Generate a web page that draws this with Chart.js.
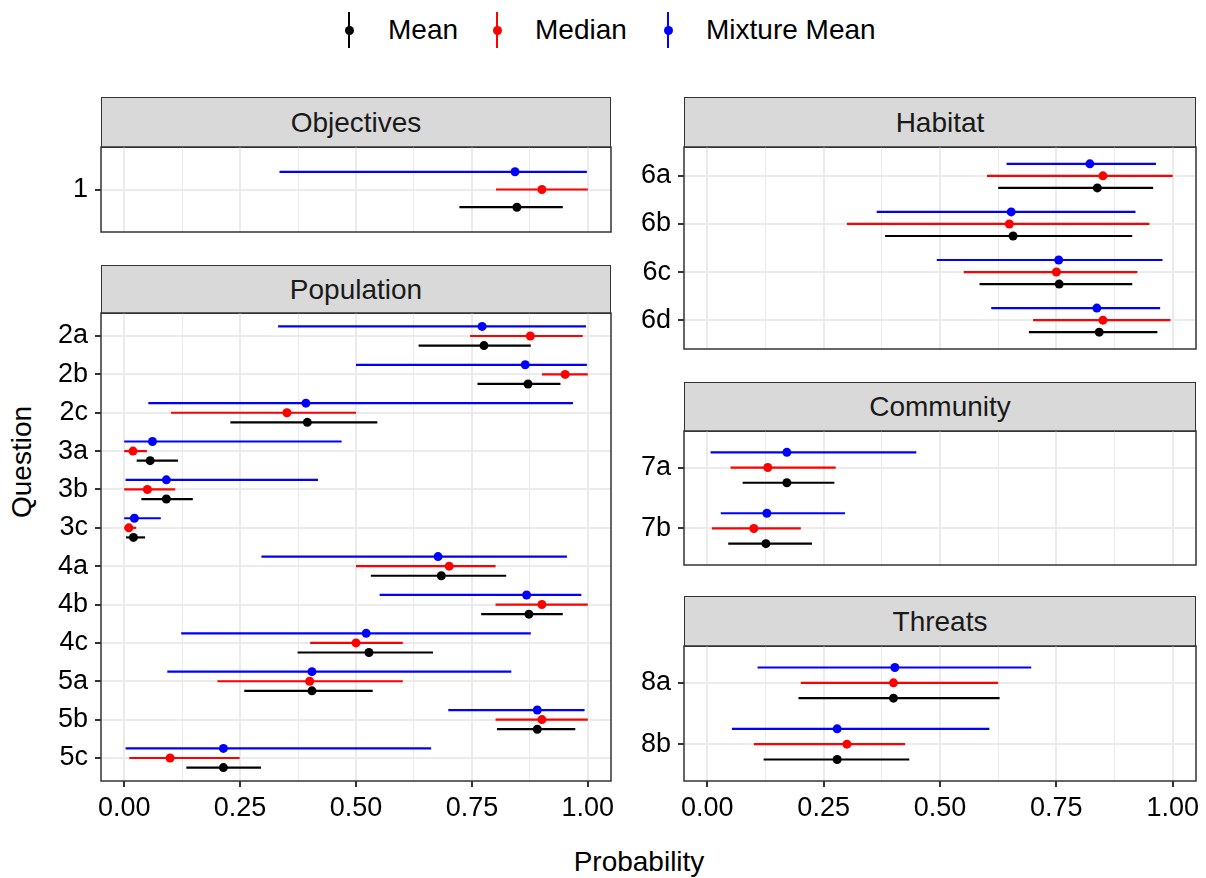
<!DOCTYPE html>
<html>
<head>
<meta charset="utf-8">
<script src="https://cdn.jsdelivr.net/npm/chart.js@4.4.1/dist/chart.umd.min.js"></script>
<style>
  body { margin: 0; background: #fff; font-family: "Liberation Sans", Arial, sans-serif; }
  #fig { position: relative; width: 1206px; height: 878px; overflow: hidden; background: #fff; }
  .strip { position: absolute; background: #d9d9d9; border: 1.5px solid #333; box-sizing: border-box;
           font-size: 28px; color: #1a1a1a; display: flex; align-items: center; justify-content: center; }
  .wrap { position: absolute; }
  .key { position: absolute; width: 12px; height: 36px; }
  .key i { position: absolute; left: 5px; top: 0; width: 2px; height: 36px; }
  .key b { position: absolute; left: 1.5px; top: 13.5px; width: 9px; height: 9px; border-radius: 50%; }
  .lab { position: absolute; font-size: 28px; color: #000; line-height: 32px; white-space: nowrap; }
  .title { position: absolute; font-size: 28px; color: #000; white-space: nowrap; transform: translate(-50%, -50%); }
</style>
</head>
<body>
<div id="fig">
  <span class="key" style="left:343px;top:12px"><i style="background:#000"></i><b style="background:#000"></b></span>
  <span class="lab" style="left:388px;top:14px">Mean</span>
  <span class="key" style="left:491px;top:12px"><i style="background:#f00"></i><b style="background:#f00"></b></span>
  <span class="lab" style="left:535px;top:14px">Median</span>
  <span class="key" style="left:662px;top:12px"><i style="background:#00f"></i><b style="background:#00f"></b></span>
  <span class="lab" style="left:706px;top:14px">Mixture Mean</span>
  <div class="title" style="left:639px;top:862px">Probability</div>
  <div class="title" style="left:22px;top:462px;transform:translate(-50%,-50%) rotate(-90deg)">Question</div>
</div>
<script>
// values
const questions = ['1', '2a', '2b', '2c', '3a', '3b', '3c', '4a', '4b', '4c', '5a', '5b', '5c',
                   '6a', '6b', '6c', '6d', '7a', '7b', '8a', '8b'];
const panelOf = ['Objectives', 'Population', 'Population', 'Population', 'Population', 'Population',
                 'Population', 'Population', 'Population', 'Population', 'Population', 'Population',
                 'Population', 'Habitat', 'Habitat', 'Habitat', 'Habitat', 'Community', 'Community',
                 'Threats', 'Threats'];

const meanEst  = [0.847, 0.776, 0.871, 0.395, 0.056, 0.091, 0.020, 0.684, 0.873, 0.528, 0.405, 0.891, 0.214,
                  0.838, 0.657, 0.756, 0.842, 0.171, 0.126, 0.400, 0.279];
const meanLow  = [0.723, 0.635, 0.762, 0.229, 0.027, 0.037, 0.004, 0.532, 0.770, 0.374, 0.259, 0.804, 0.134,
                  0.625, 0.382, 0.585, 0.691, 0.076, 0.045, 0.196, 0.121];
const meanHigh = [0.946, 0.877, 0.941, 0.546, 0.116, 0.148, 0.045, 0.824, 0.946, 0.666, 0.536, 0.973, 0.295,
                  0.958, 0.913, 0.913, 0.967, 0.273, 0.225, 0.628, 0.434];

const medianEst  = [0.901, 0.876, 0.951, 0.351, 0.019, 0.050, 0.010, 0.701, 0.901, 0.500, 0.400, 0.901, 0.099,
                    0.850, 0.649, 0.750, 0.850, 0.130, 0.100, 0.400, 0.300];
const medianLow  = [0.802, 0.746, 0.901, 0.101, 0.000, 0.000, 0.000, 0.500, 0.801, 0.401, 0.201, 0.801, 0.011,
                    0.601, 0.300, 0.551, 0.700, 0.050, 0.010, 0.201, 0.100];
const medianHigh = [1.000, 0.989, 1.000, 0.500, 0.049, 0.110, 0.026, 0.801, 1.000, 0.601, 0.601, 1.000, 0.249,
                    1.000, 0.950, 0.924, 0.995, 0.276, 0.201, 0.625, 0.425];

const mixEst  = [0.843, 0.772, 0.865, 0.392, 0.061, 0.091, 0.022, 0.677, 0.868, 0.522, 0.405, 0.891, 0.214,
                 0.822, 0.653, 0.755, 0.837, 0.171, 0.128, 0.403, 0.279];
const mixLow  = [0.335, 0.332, 0.500, 0.052, 0.000, 0.003, 0.000, 0.296, 0.551, 0.123, 0.093, 0.699, 0.003,
                 0.643, 0.364, 0.493, 0.610, 0.007, 0.029, 0.108, 0.053];
const mixHigh = [0.998, 0.996, 0.998, 0.968, 0.469, 0.418, 0.079, 0.955, 0.986, 0.877, 0.835, 0.993, 0.662,
                 0.964, 0.920, 0.978, 0.973, 0.449, 0.296, 0.696, 0.606];

const xMajor = [0, 0.25, 0.5, 0.75, 1];
const xMinor = [0.125, 0.375, 0.625, 0.875];
const xTickLabels = ['0.00', '0.25', '0.50', '0.75', '1.00'];

// facet layout (pixels)
const panels = [
  { name: 'Objectives', left: 101, top: 147, w: 510, h: 85,  stripTop: 97,  axis: false },
  { name: 'Population', left: 101, top: 313, w: 510, h: 468, stripTop: 265, axis: true },
  { name: 'Habitat',    left: 684, top: 147, w: 512, h: 202, stripTop: 97,  axis: false },
  { name: 'Community',  left: 684, top: 431, w: 512, h: 134, stripTop: 382, axis: false },
  { name: 'Threats',    left: 684, top: 646, w: 512, h: 135, stripTop: 596, axis: true },
];

Chart.defaults.font.family = '"Liberation Sans", Arial, sans-serif';
Chart.defaults.animation = false;

const series = [
  { est: mixEst,    lo: mixLow,    hi: mixHigh,    color: '#0000ff', dy: -0.25 },
  { est: medianEst, lo: medianLow, hi: medianHigh, color: '#ff0000', dy: 0 },
  { est: meanEst,   lo: meanLow,   hi: meanHigh,   color: '#000000', dy: 0.25 },
];

// panel border on top of everything
const frame = {
  id: 'frame',
  afterDraw(chart) {
    const { ctx, chartArea: a } = chart;
    ctx.save();
    ctx.strokeStyle = '#333';
    ctx.lineWidth = 1.5;
    ctx.strokeRect(a.left, a.top, a.right - a.left, a.bottom - a.top);
    ctx.restore();
  }
};

const isMajor = (v) => xMajor.some(m => Math.abs(m - v) < 1e-6);
const fig = document.getElementById('fig');
const YW = 100, PAD_T = 24, PAD_R = 12, XH = 50;

panels.forEach(p => {
  // strip header
  const strip = document.createElement('div');
  strip.className = 'strip';
  strip.style.left = p.left + 'px';
  strip.style.top = p.stripTop + 'px';
  strip.style.width = p.w + 'px';
  strip.style.height = (p.top - p.stripTop + 1) + 'px';
  strip.textContent = p.name;
  fig.appendChild(strip);

  const idx = questions.map((q, i) => i).filter(i => panelOf[i] === p.name);
  const cats = idx.map(i => questions[i]);

  const datasets = [];
  // points first so they sit above the lines
  series.forEach(s => {
    datasets.push({
      data: idx.map((i, k) => ({ x: s.est[i], y: k + 1 + s.dy })),
      backgroundColor: s.color, borderWidth: 0, pointRadius: 4.5, pointHoverRadius: 4.5
    });
  });
  series.forEach(s => {
    idx.forEach((i, k) => {
      datasets.push({
        data: [{ x: s.lo[i], y: k + 1 + s.dy }, { x: s.hi[i], y: k + 1 + s.dy }],
        showLine: true, borderColor: s.color, borderWidth: 2.2, pointRadius: 0, pointHoverRadius: 0
      });
    });
  });

  const bottom = p.axis ? XH : PAD_T;
  const wrap = document.createElement('div');
  wrap.className = 'wrap';
  wrap.style.left = (p.left - YW) + 'px';
  wrap.style.top = (p.top - PAD_T) + 'px';
  const canvas = document.createElement('canvas');
  canvas.width = YW + p.w + PAD_R;
  canvas.height = PAD_T + p.h + bottom;
  wrap.appendChild(canvas);
  fig.appendChild(wrap);

  new Chart(canvas, {
    type: 'scatter',
    data: { datasets },
    options: {
      responsive: false,
      animation: false,
      layout: { padding: { top: PAD_T, right: PAD_R, bottom: p.axis ? 0 : PAD_T, left: 0 } },
      plugins: { legend: { display: false }, tooltip: { enabled: false } },
      scales: {
        x: {
          type: 'linear', min: -0.05, max: 1.05,
          afterBuildTicks: s => { s.ticks = xMajor.concat(xMinor).sort((a, b) => a - b).map(v => ({ value: v })); },
          afterFit: s => { s.height = p.axis ? XH : 0; },
          ticks: {
            display: p.axis, autoSkip: false, maxRotation: 0, padding: 5, color: '#000',
            font: { size: 27 },
            callback: v => { const j = xMajor.findIndex(m => Math.abs(m - v) < 1e-6); return j >= 0 ? xTickLabels[j] : ''; }
          },
          grid: {
            color: '#ebebeb',
            lineWidth: c => (c.tick && !isMajor(c.tick.value)) ? 1 : 2,
            drawTicks: p.axis, tickLength: 6, tickWidth: 2,
            tickColor: c => (c.tick && !isMajor(c.tick.value)) ? 'rgba(0,0,0,0)' : '#333'
          },
          border: { display: false }
        },
        y: {
          type: 'linear', reverse: true, min: 0.4, max: cats.length + 0.6,
          afterBuildTicks: s => { s.ticks = cats.map((c, k) => ({ value: k + 1 })); },
          afterFit: s => { s.width = YW; },
          ticks: {
            color: '#000', font: { size: 27 }, padding: 7,
            callback: v => cats[Math.round(v) - 1] ?? ''
          },
          grid: { color: '#ebebeb', lineWidth: 2, tickLength: 6, tickWidth: 2, tickColor: '#333' },
          border: { display: false }
        }
      }
    },
    plugins: [frame]
  });
});
</script>
</body>
</html>
